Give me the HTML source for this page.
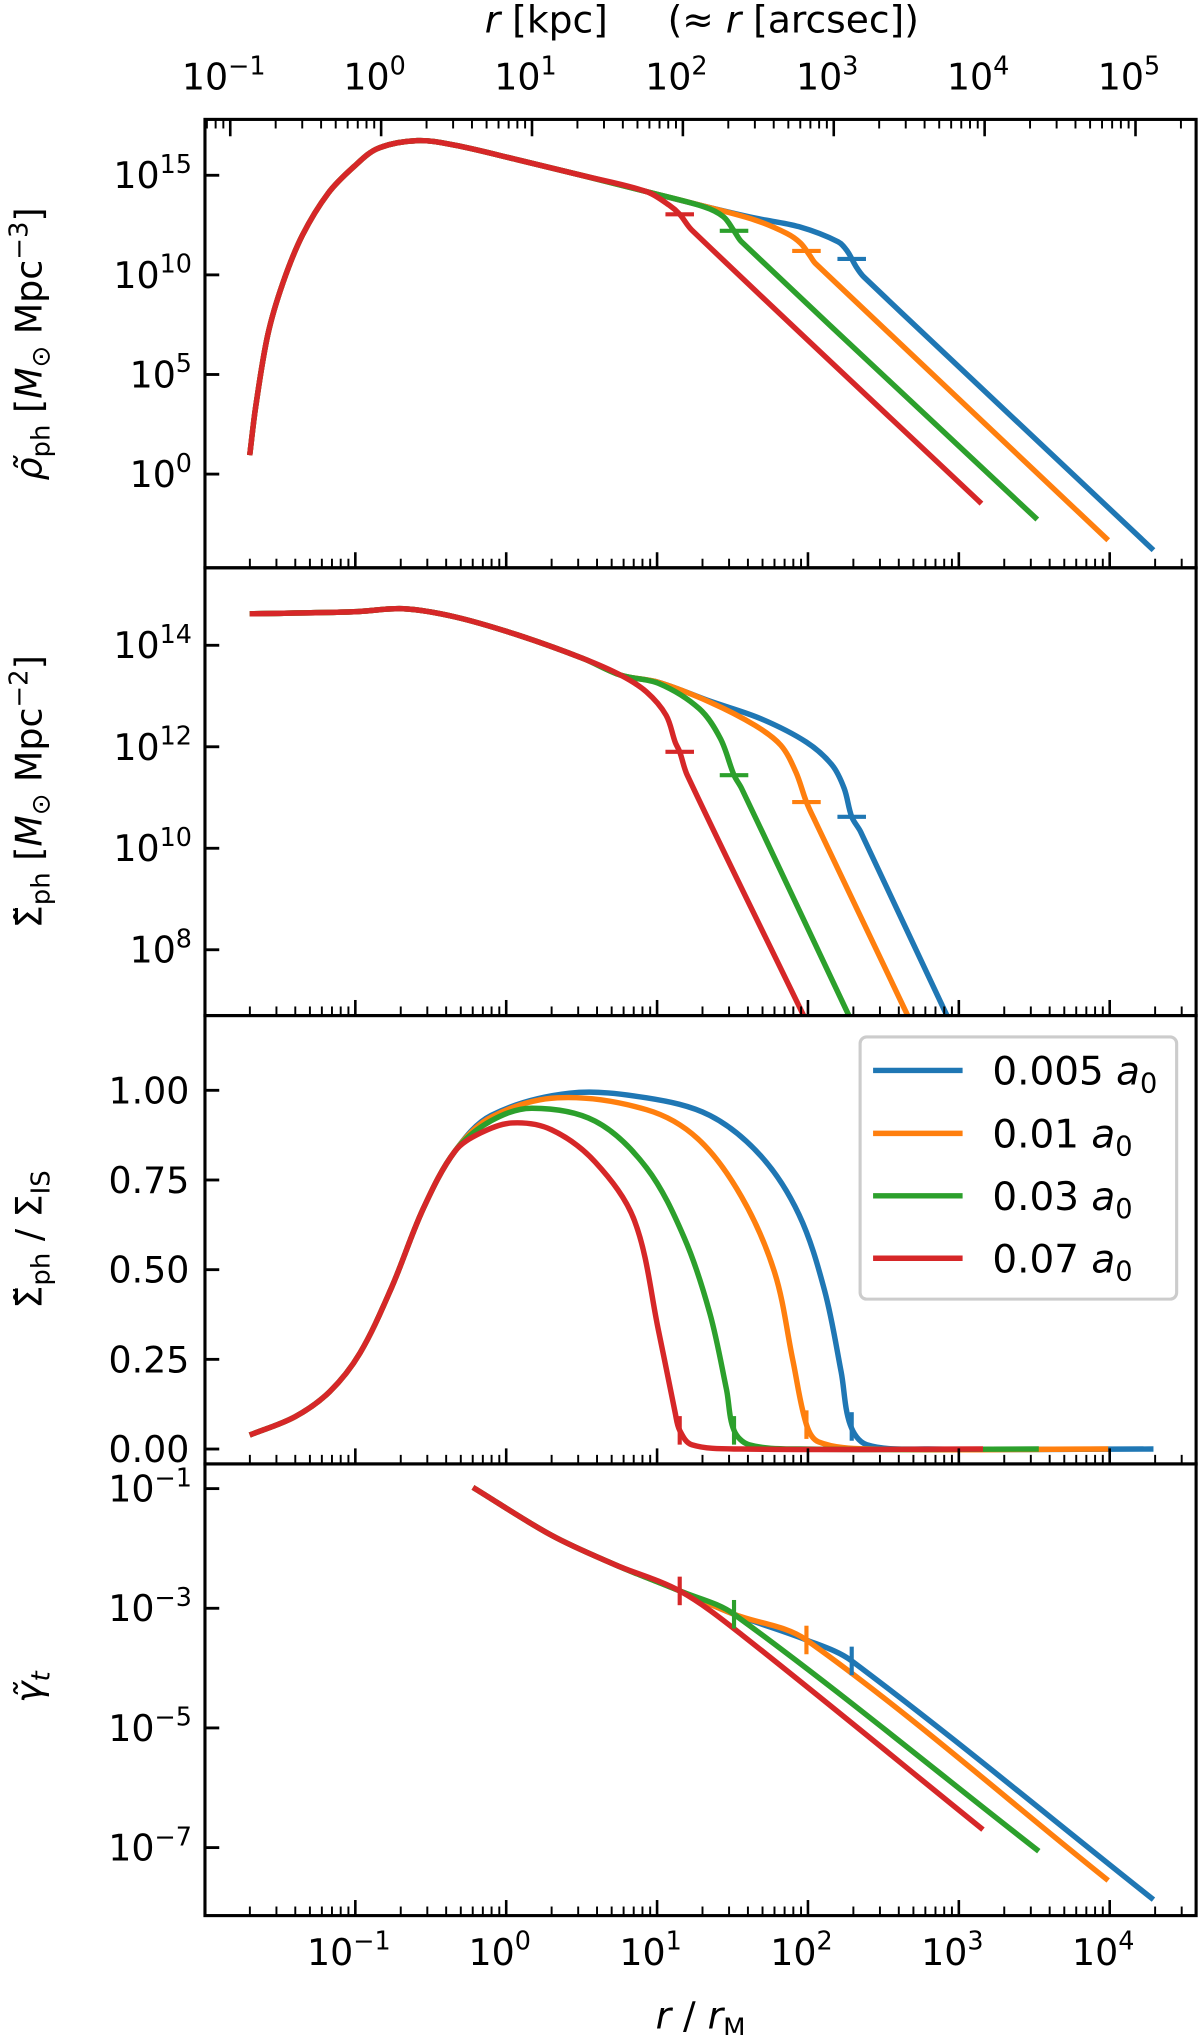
<!DOCTYPE html>
<html><head><meta charset="utf-8"><style>
html,body{margin:0;padding:0;background:#fff;}
svg{display:block;font-family:"DejaVu Sans","Liberation Sans",sans-serif;}
</style></head><body>
<svg id="fig" xmlns="http://www.w3.org/2000/svg" width="1200" height="2035" viewBox="0 0 925 1568" preserveAspectRatio="none"></svg>
<script>
// ---- data (log10 r/rM, value) ----
const seriesNames = ["0.005 a0","0.01 a0","0.03 a0","0.07 a0"];
const seriesColors = ["#1f77b4","#ff7f0e","#2ca02c","#d62728"];
const markerLogR = [2.29, 1.99, 1.51, 1.15];

const rhoCommon = [[-1.70,0.95],[-1.66,3.4],[-1.58,7.0],[-1.48,9.6],[-1.35,12.0],[-1.18,14.1],[-1.01,15.43],[-0.85,16.35],[-0.59,16.74],[-0.34,16.51],[0.08,15.77],[0.51,14.98],[0.93,14.18]];
const rhoBlue = [[1.31,13.45],[1.65,12.85],[1.94,12.42],[2.20,11.66],[2.26,11.2],[2.32,10.4],[2.37,9.9],[4.29,-3.82]];
const rhoOrange = [[1.31,13.45],[1.65,12.75],[1.86,12.08],[1.95,11.6],[2.01,11.0],[2.05,10.57],[3.99,-3.32]];
const rhoGreen = [[1.31,13.42],[1.44,12.92],[1.51,12.21],[1.56,11.66],[3.52,-2.28]];
const rhoRed = [[1.08,13.5],[1.15,13.04],[1.23,12.25],[3.15,-1.48]];

const sigCommon = [[-1.70,14.62],[-1.01,14.66],[-0.68,14.72],[-0.34,14.56],[0.08,14.20],[0.51,13.74],[0.76,13.41]];
const sigBlue = [[1.01,13.27],[1.35,12.90],[1.69,12.55],[1.99,12.09],[2.16,11.64],[2.24,11.18],[2.29,10.62],[2.35,10.32],[2.92,6.71],[3.0,6.2]];
const sigOrange = [[1.01,13.27],[1.35,12.88],[1.65,12.42],[1.82,12.03],[1.92,11.50],[1.99,10.91],[2.05,10.52],[2.66,6.71],[2.74,6.2]];
const sigGreen = [[1.01,13.25],[1.28,12.75],[1.42,12.16],[1.51,11.44],[1.56,11.18],[2.27,6.71],[2.35,6.2]];
const sigRed = [[0.93,13.08],[1.06,12.62],[1.12,12.09],[1.15,11.90],[1.20,11.44],[1.97,6.71],[2.05,6.2]];

const ratCommon = [[-1.70,0.039],[-1.40,0.09],[-1.17,0.16],[-0.97,0.267],[-0.76,0.45],[-0.55,0.67],[-0.34,0.83]];
const ratBlue = [[-0.10,0.93],[0.42,0.992],[0.93,0.979],[1.35,0.93],[1.69,0.816],[1.94,0.654],[2.11,0.442],[2.22,0.215],[2.28,0.068],[2.39,0.012],[2.8,0],[4.29,0]];
const ratOrange = [[-0.10,0.925],[0.34,0.979],[0.93,0.946],[1.27,0.865],[1.56,0.703],[1.78,0.491],[1.90,0.247],[1.99,0.068],[2.07,0.02],[2.4,0],[3.99,0]];
const ratGreen = [[-0.10,0.915],[0.17,0.95],[0.59,0.914],[0.93,0.784],[1.18,0.589],[1.35,0.378],[1.46,0.166],[1.51,0.052],[1.61,0.012],[1.95,0],[3.53,0]];
const ratRed = [[-0.17,0.881],[0.04,0.909],[0.30,0.89],[0.59,0.80],[0.85,0.637],[1.01,0.329],[1.12,0.101],[1.15,0.052],[1.23,0.012],[1.56,0.0],[3.16,0.0]];

const gamCommon = [[-0.22,-0.98],[0.30,-1.78],[0.72,-2.27],[1.15,-2.71]];
const gamBlue = [[1.51,-3.10],[1.99,-3.53],[2.29,-3.88],[4.29,-7.87]];
const gamOrange = [[1.51,-3.10],[1.99,-3.53],[3.99,-7.55]];
const gamGreen = [[1.51,-3.10],[3.53,-7.06]];
const gamRed = [[1.56,-3.44],[3.16,-6.70]];

const xTickExp = [-1,0,1,2,3,4];
const topTickExp = [-1,0,1,2,3,4,5];
const rhoTickExp = [0,5,10,15];
const sigTickExp = [8,10,12,14];
const ratTicks = ["0.00","0.25","0.50","0.75","1.00"];
const gamTickExp = [-7,-5,-3,-1];

// ---- layout ----
const NS="http://www.w3.org/2000/svg";
const svg=document.getElementById('fig');
const L=158, R=922;
const X0=390.2, XD=116.3, KPC_OFF=0.829;
const sx = lx => X0 + XD*lx;
const P = [
 {top:92, bot:437.5, y:v=>365.3-15.35*v},
 {top:437.5, bot:782.5, y:v=>1044.6-39.1*v},
 {top:782.5, bot:1128, y:v=>1116.5-276.4*v},
 {top:1128, bot:1476, y:v=>1147-46.1*(v+1)}
];
function el(tag, attrs, parent){const e=document.createElementNS(NS,tag);for(const k in attrs)e.setAttribute(k,attrs[k]);(parent||svg).appendChild(e);return e;}

const defs=el('defs',{});
P.forEach((p,i)=>{const c=el('clipPath',{id:'clip'+i},defs);el('rect',{x:L,y:p.top,width:R-L,height:p.bot-p.top},c);});

function smoothPath(pts){
  let d='M'+pts[0][0].toFixed(2)+','+pts[0][1].toFixed(2);
  const tan=i=>{const a=pts[Math.max(i-1,0)],b=pts[Math.min(i+1,pts.length-1)];let dx=b[0]-a[0],dy=b[1]-a[1];const n=Math.hypot(dx,dy)||1;return[dx/n,dy/n];};
  for(let i=0;i<pts.length-1;i++){
    const p0=pts[i],p1=pts[i+1];const s=Math.hypot(p1[0]-p0[0],p1[1]-p0[1])/3;
    const t0=tan(i),t1=tan(i+1);
    d+=' C'+(p0[0]+t0[0]*s).toFixed(2)+','+(p0[1]+t0[1]*s).toFixed(2)+' '+(p1[0]-t1[0]*s).toFixed(2)+','+(p1[1]-t1[1]*s).toFixed(2)+' '+p1[0].toFixed(2)+','+p1[1].toFixed(2);
  }
  return d;
}
function interp(data,lx){for(let i=0;i<data.length-1;i++){if(lx>=data[i][0]&&lx<=data[i+1][0]){const t=(lx-data[i][0])/(data[i+1][0]-data[i][0]);return data[i][1]+t*(data[i+1][1]-data[i][1]);}}return data[data.length-1][1];}

const panelData = [
  [rhoCommon.concat(rhoBlue), rhoCommon.concat(rhoOrange), rhoCommon.concat(rhoGreen), rhoCommon.concat(rhoRed)],
  [sigCommon.concat(sigBlue), sigCommon.concat(sigOrange), sigCommon.concat(sigGreen), sigCommon.concat(sigRed)],
  [ratCommon.concat(ratBlue), ratCommon.concat(ratOrange), ratCommon.concat(ratGreen), ratCommon.concat(ratRed)],
  [gamCommon.concat(gamBlue), gamCommon.concat(gamOrange), gamCommon.concat(gamGreen), gamCommon.concat(gamRed)]
];
const panelNames=['rho-panel','sigma-panel','ratio-panel','shear-panel'];

P.forEach((p,pi)=>{
  const g=el('g',{'clip-path':'url(#clip'+pi+')'});
  
  
  panelData[pi].forEach((data,si)=>{
    const pts=data.map(d=>[sx(d[0]),p.y(d[1])]);
    const path=el('path',{d:smoothPath(pts),fill:'none',stroke:seriesColors[si],'stroke-width':4.2,'stroke-linejoin':'round'},g);
    
    
  });
  panelData[pi].forEach((data,si)=>{
    const mx=sx(markerLogR[si]), my=p.y(interp(data,markerLogR[si]));
    const horiz = pi<2;
    const m=el('line',horiz?{x1:mx-11,x2:mx+11,y1:my,y2:my}:{x1:mx,x2:mx,y1:my-11,y2:my+11},g);
    m.setAttribute('stroke',seriesColors[si]);m.setAttribute('stroke-width',3.2);
    
    
  });
  const f=el('rect',{x:L,y:p.top,width:R-L,height:p.bot-p.top,fill:'none',stroke:'#000','stroke-width':2.4});
  
  
  for(let e=-2;e<=4;e++){for(let k=1;k<=9;k++){const lx=e+Math.log10(k);const x=sx(lx);if(x<L+1||x>R-1)continue;
    const len=k===1?12:7;
    const t=el('line',{x1:x,x2:x,y1:p.bot,y2:p.bot-len,stroke:'#000','stroke-width':k===1?2:1.5});
    
    }}
});

function supText(x,y,base,sup,anchor,size,name){
  const t=el('text',{x:x,y:y,'text-anchor':anchor,'font-size':size,fill:'#000'});
  
  
  const a=el('tspan',{},t);a.textContent=base;
  const b=el('tspan',{dy:-size*0.42,'font-size':size*0.7},t);b.textContent=sup;
  return t;
}
const FS=28;
rhoTickExp.forEach(e=>{const y=P[0].y(e);el('line',{x1:L,x2:L+11,y1:y,y2:y,stroke:'#000','stroke-width':2.2});supText(148,y+10,'10',String(e),'end',FS,'rho-y-tick-label');});
sigTickExp.forEach(e=>{const y=P[1].y(e);el('line',{x1:L,x2:L+11,y1:y,y2:y,stroke:'#000','stroke-width':2.2});supText(148,y+10,'10',String(e),'end',FS,'sigma-y-tick-label');});
ratTicks.forEach(s=>{const y=P[2].y(parseFloat(s));el('line',{x1:L,x2:L+11,y1:y,y2:y,stroke:'#000','stroke-width':2.2});
  const t=el('text',{x:146,y:y+10,'text-anchor':'end','font-size':FS});t.textContent=s;
  
  });
gamTickExp.forEach(e=>{const y=P[3].y(e);el('line',{x1:L,x2:L+11,y1:y,y2:y,stroke:'#000','stroke-width':2.2});supText(148,y+10,'10',String(e).replace('-','\u2212'),'end',FS,'shear-y-tick-label');});

xTickExp.forEach(e=>{supText(sx(e)-5,1514,'10',String(e).replace('-','\u2212'),'middle',FS,'x-tick-label');});
for(let e=-2;e<=5;e++){for(let k=1;k<=9;k++){const lx=e+Math.log10(k)-KPC_OFF;const x=sx(lx);if(x<L+1||x>R-1)continue;
  const len=k===1?13:7;
  const t=el('line',{x1:x,x2:x,y1:P[0].top,y2:P[0].top+len,stroke:'#000','stroke-width':k===1?2:1.5});
  
  }}
topTickExp.forEach(e=>{supText(sx(e-KPC_OFF)-5,69,'10',String(e).replace('-','\u2212'),'middle',FS,'top-x-tick-label');});

const lg=el('g',{});


el('rect',{x:663,y:799,width:244,height:202,rx:5,fill:'#fff',stroke:'#ccc','stroke-width':2.4},lg);
const legY=[824.8,873.3,921.4,969.5];
const legNum=["0.005","0.01","0.03","0.07"];
seriesNames.forEach((n,i)=>{
  const li=el('line',{x1:673,x2:742,y1:legY[i],y2:legY[i],stroke:seriesColors[i],'stroke-width':4.2},lg);
  
  
  const t=el('text',{x:765,y:legY[i]+11,'font-size':30},lg);
  
  
  const a=el('tspan',{},t);a.textContent=legNum[i]+' ';
  const b=el('tspan',{'font-style':'oblique'},t);b.textContent='a';
  const c=el('tspan',{dy:6,'font-size':21},t);c.textContent='0';
});
</script>
<script>
(function(){
 const svg=document.getElementById('fig');const NS="http://www.w3.org/2000/svg";
 function add(html,name){const g=document.createElementNS(NS,'g');g.innerHTML=html;svg.appendChild(g);}
 add('<text x="541" y="25" text-anchor="middle" font-size="29" xml:space="preserve"><tspan font-style="oblique">r</tspan> [kpc]     (≈ <tspan font-style="oblique">r</tspan> [arcsec])</text>','top-x-axis-title');
 add('<text x="540" y="1563" text-anchor="middle" font-size="29"><tspan font-style="oblique">r</tspan> / <tspan font-style="oblique">r</tspan><tspan dy="6" font-size="20">M</tspan></text>','x-axis-title');
 add('<text transform="translate(32,265) rotate(-90)" text-anchor="middle" font-size="28"><tspan font-style="oblique">ρ̃</tspan><tspan dy="6" font-size="20">ph</tspan><tspan dy="-6"> [</tspan><tspan font-style="oblique">M</tspan><tspan dy="6" font-size="20">⊙</tspan><tspan dy="-6"> Mpc</tspan><tspan dy="-11" font-size="20">−3</tspan><tspan dy="11">]</tspan></text>','rho-y-axis-title');
 add('<text transform="translate(32,610) rotate(-90)" text-anchor="middle" font-size="28"><tspan>Σ̃</tspan><tspan dy="6" font-size="20">ph</tspan><tspan dy="-6"> [</tspan><tspan font-style="oblique">M</tspan><tspan dy="6" font-size="20">⊙</tspan><tspan dy="-6"> Mpc</tspan><tspan dy="-11" font-size="20">−2</tspan><tspan dy="11">]</tspan></text>','sigma-y-axis-title');
 add('<text transform="translate(32,955) rotate(-90)" text-anchor="middle" font-size="28"><tspan>Σ̃</tspan><tspan dy="6" font-size="20">ph</tspan><tspan dy="-6"> / Σ</tspan><tspan dy="6" font-size="20">IS</tspan></text>','ratio-y-axis-title');
 add('<text transform="translate(32,1300) rotate(-90)" text-anchor="middle" font-size="28"><tspan font-style="oblique">γ̃</tspan><tspan dy="6" font-size="20" font-style="oblique">t</tspan></text>','shear-y-axis-title');
})();
</script>
</body></html>
